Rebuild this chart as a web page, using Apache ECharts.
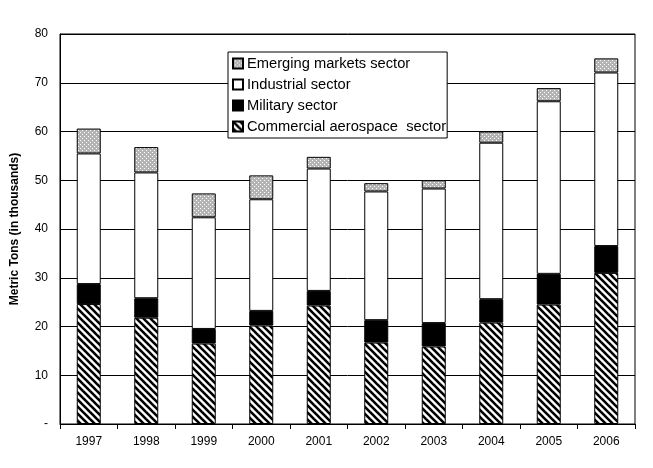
<!DOCTYPE html>
<html>
<head>
<meta charset="utf-8">
<script src="https://cdn.jsdelivr.net/npm/echarts@6/dist/echarts.min.js"></script>
<style>html,body{margin:0;padding:0;background:#fff}#c{width:653px;height:468px}</style>
</head>
<body>
<div id="c"></div>
<script>
const categories = ['1997','1998','1999','2000','2001','2002','2003','2004','2005','2006'];
const commercial = [24.6, 21.8, 16.5, 20.2, 24.3, 16.7, 15.9, 20.8, 24.5, 31.0];
const military   = [4.1, 4.0, 3.0, 3.0, 3.0, 4.6, 4.8, 4.8, 6.3, 5.5];
const industrial = [26.8, 25.8, 22.9, 22.9, 25.1, 26.4, 27.6, 32.1, 35.4, 35.6];
const emerging   = [5.1, 5.2, 4.9, 4.9, 2.4, 1.7, 1.7, 2.3, 2.7, 2.9];
const seriesNames = ['Commercial aerospace  sector','Military sector','Industrial sector','Emerging markets sector'];
const yTicks = ['-','10','20','30','40','50','60','70','80'];

function stripePattern(){
  const s = 7, c = document.createElement('canvas');
  c.width = s; c.height = s;
  const g = c.getContext('2d');
  g.fillStyle = '#fff'; g.fillRect(0,0,s,s);
  g.strokeStyle = '#000'; g.lineWidth = 2.6;
  for (let k = -1; k <= 1; k++) {
    g.beginPath(); g.moveTo(k*s - 2, -2); g.lineTo(k*s + s + 2, s + 2); g.stroke();
  }
  return {image: c, repeat: 'repeat'};
}
function dotPattern(){
  const c = document.createElement('canvas');
  c.width = 4; c.height = 4;
  const g = c.getContext('2d');
  g.fillStyle = '#b4b4b4'; g.fillRect(0,0,4,4);
  g.fillStyle = '#fff'; g.fillRect(0,0,1,1); g.fillRect(2,2,1,1);
  return {image: c, repeat: 'repeat'};
}
const fills = [stripePattern(), '#000', '#fff', dotPattern()];
const dataSets = [commercial, military, industrial, emerging];

const chart = echarts.init(document.getElementById('c'), null, {renderer:'canvas'});
const font = 'Liberation Sans, Arial, sans-serif';
chart.setOption({
  animation: false,
  backgroundColor: '#fff',
  textStyle: {fontFamily: font, color: '#000'},
  grid: {left: 60, right: 18, top: 34, bottom: 44, show: true, borderColor: '#000', borderWidth: 1, backgroundColor: '#fff'},
  legend: {
    orient: 'vertical', left: 228, top: 52,
    data: [seriesNames[3], seriesNames[2], seriesNames[1], seriesNames[0]],
    backgroundColor: '#fff', borderColor: '#000', borderWidth: 1,
    padding: [4, 1, 4, 4], itemGap: 6, itemWidth: 10, itemHeight: 10,
    icon: 'rect',
    textStyle: {fontFamily: font, fontSize: 14.7, color: '#000', padding: [0,0,0,-1]}
  },
  xAxis: {
    type: 'category', data: categories,
    axisLine: {lineStyle: {color: '#000', width: 1}},
    axisTick: {show: true, length: 5, lineStyle: {color: '#000'}},
    axisLabel: {color: '#000', fontSize: 12, margin: 12, fontFamily: font}
  },
  yAxis: {
    type: 'value', min: 0, max: 80, interval: 10,
    name: 'Metric Tons (in thousands)', nameLocation: 'middle', nameGap: 39,
    nameTextStyle: {fontWeight: 'bold', fontSize: 12, color: '#000', fontFamily: font},
    axisLine: {show: true, lineStyle: {color: '#000', width: 1}},
    axisTick: {show: false},
    axisLabel: {color: '#000', fontSize: 12, margin: 12, fontFamily: font,
      formatter: (v) => yTicks[Math.round(v / 10)]},
    splitLine: {show: true, lineStyle: {color: '#000', width: 1}}
  },
  series: dataSets.map((d, i) => ({
    name: seriesNames[i], type: 'bar', stack: 'total', data: d,
    barWidth: 24,
    itemStyle: {color: fills[i], borderColor: '#000', borderWidth: 1},
    emphasis: {disabled: true}
  }))
});
</script>
</body>
</html>
